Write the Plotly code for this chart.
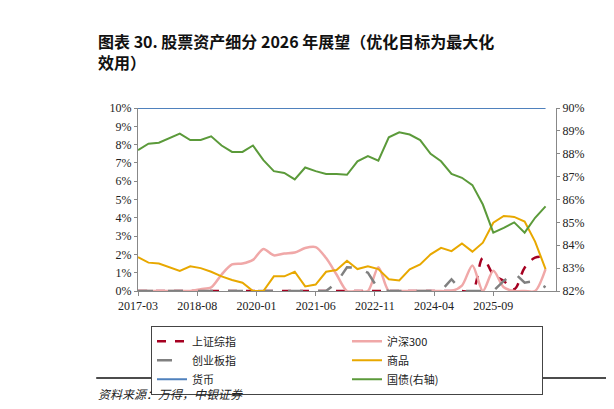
import plotly.graph_objects as go

x_months = [3 * i for i in range(40)]
tick_vals = [0, 17, 34, 51, 68, 85, 102]
tick_text = ["2017-03", "2018-08", "2020-01", "2021-06", "2022-11", "2024-04", "2025-09"]

shanghai = [0]*33 + [1.8, 0.9, 0.55, 0.1, 1.27, 1.82, 1.85]
hs300 = [0,0,0,0,0,0,0.1,0.2,0.9,1.45,1.5,1.7,2.3,1.95,2.05,2.1,2.35,2.4,1.8,0.9,
         0,0,0,1.3,0,0,0,0,0,0,0,0.3,1.4,0,1.1,0.2,0,0,0,1.2]
chinext = [0]*19 + [0.45,1.3,1.27,1.0,0.1,0,0,0,0,0,0,0.64,0,0,0,0,0.55,1.0,0.45,0.55,0.2]
commodity = [1.85,1.55,1.5,1.3,1.1,1.35,1.25,1.05,0.8,0.6,0.45,0.0,0.0,0.8,0.8,1.05,0.25,0.35,1.05,1.15,
             1.65,1.2,1.35,1.2,0.64,0.58,1.18,1.45,2.0,2.36,2.18,2.6,2.15,2.64,3.73,4.1,4.05,3.8,2.7,1.2]
money = [10.0]*40
bond = [88.16,88.44,88.48,88.68,88.88,88.6,88.6,88.76,88.36,88.08,88.08,88.36,87.72,87.24,87.16,86.88,87.4,87.24,87.12,87.12,
        87.08,87.67,87.9,87.7,88.72,88.94,88.84,88.6,88.0,87.67,87.12,86.95,86.63,85.78,84.55,84.76,85.0,84.55,85.2,85.7]

fig = go.Figure()
fig.add_trace(go.Scatter(x=x_months, y=shanghai, name="上证综指", mode="lines",
                         line=dict(color="#A50021", width=2.5, dash="dash", shape="spline")))
fig.add_trace(go.Scatter(x=x_months, y=hs300, name="沪深300", mode="lines",
                         line=dict(color="#F0A8A8", width=2.5, shape="spline", smoothing=0.8)))
fig.add_trace(go.Scatter(x=x_months, y=chinext, name="创业板指", mode="lines",
                         line=dict(color="#808080", width=2.5, dash="longdash")))
fig.add_trace(go.Scatter(x=x_months, y=commodity, name="商品", mode="lines",
                         line=dict(color="#E8A800", width=2)))
fig.add_trace(go.Scatter(x=x_months, y=money, name="货币", mode="lines",
                         line=dict(color="#4F81BD", width=2)))
fig.add_trace(go.Scatter(x=x_months, y=bond, name="国债(右轴)", mode="lines", yaxis="y2",
                         line=dict(color="#5B9A3A", width=2)))

serif = "Liberation Serif, Noto Sans CJK SC"
fig.update_layout(
    width=614, height=409, margin=dict(l=130, r=66, t=100, b=126, autoexpand=False),
    plot_bgcolor="white", paper_bgcolor="white",
    font=dict(family=serif, size=12, color="#222"),
    xaxis=dict(range=[0, 120], tickvals=tick_vals, ticktext=tick_text, showgrid=False,
               showline=True, linecolor="#888", ticks="outside", ticklen=4, tickcolor="#888",
               zeroline=False, tickfont=dict(size=12)),
    yaxis=dict(range=[0, 10], dtick=1, ticksuffix="%", showgrid=False, showline=True,
               linecolor="#888", zeroline=False, ticks="outside", ticklen=3, tickcolor="#888",
               tickfont=dict(size=12)),
    yaxis2=dict(range=[82, 90], dtick=1, ticksuffix="%", overlaying="y", side="right",
                showgrid=False, showline=True, linecolor="#888", zeroline=False,
                ticks="outside", ticklen=3, tickcolor="#888", tickfont=dict(size=12)),
    legend=dict(orientation="h", x=0.5, xanchor="center", y=-0.19, yanchor="top",
                entrywidth=150, bordercolor="#444", borderwidth=1, tracegroupgap=0,
                font=dict(size=11, family="Noto Sans CJK SC"), traceorder="normal"),
    showlegend=True,
)
fig.add_annotation(xref="paper", yref="paper", x=-0.1, y=1.0, xanchor="left", yanchor="bottom",
                   yshift=32, align="left", showarrow=False,
                   text="<b>图表 30. 股票资产细分 2026 年展望（优化目标为最大化<br>效用）</b>",
                   font=dict(size=16, family="Noto Sans CJK SC", color="#111"))
fig.add_shape(type="line", xref="paper", yref="paper", x0=-0.1, x1=1.12, y0=-0.475, y1=-0.475,
              line=dict(color="#111", width=1.5))
fig.add_annotation(xref="paper", yref="paper", x=-0.1, y=-0.5, xanchor="left", yanchor="top",
                   showarrow=False, text="<i>资料来源：万得，中银证券</i>",
                   font=dict(size=12, family="Noto Sans CJK SC", color="#222"))
fig.write_html("out.html")
